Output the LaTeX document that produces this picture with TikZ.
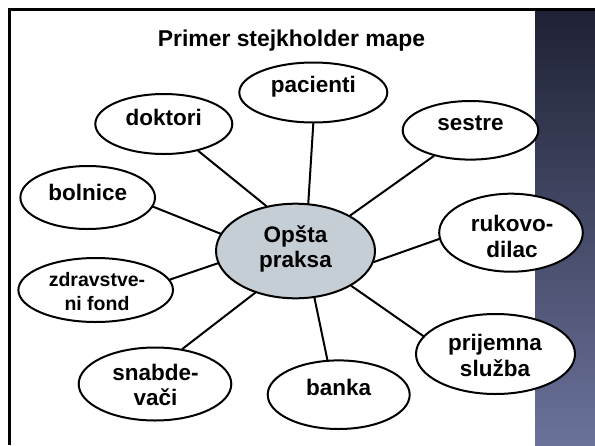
\documentclass[tikz,border=0pt]{standalone}
\usepackage{fontspec}
\setmainfont{Liberation Sans}
\usetikzlibrary{shapes.geometric}
\definecolor{hubfill}{RGB}{197,206,213}
\definecolor{stripTop}{RGB}{31,34,53}
\definecolor{stripBot}{RGB}{107,114,154}
% two stacked lines whose baseline is the first line's baseline
\newcommand{\twolines}[2]{\begin{tabular}[t]{@{}c@{}}#1\\#2\end{tabular}}
\begin{document}
\begin{tikzpicture}[x=1pt,y=-1pt,
  bub/.style={ellipse, draw=black, line width=2pt, fill=white, inner sep=0pt},
  hub/.style={bub, fill=hubfill},
  lbl/.style={font=\bfseries\fontsize{22.5}{25.5}\selectfont, inner sep=0pt, anchor=base},
  small/.style={lbl, font=\bfseries\fontsize{19.5}{24}\selectfont},
  link/.style={line width=2pt, line cap=round}]
\useasboundingbox (0,0) rectangle (595,445);
\fill[white] (0,0) rectangle (595,445);

% side strip and frame
\shade[top color=stripTop, bottom color=stripBot] (535,11) rectangle (595,445);
\fill[black] (8,8) rectangle (595,11);
\fill[black] (8,8) rectangle (11,445);

% title
\node[lbl, font=\bfseries\fontsize{22.9}{26}\selectfont] (title) at (291.5,46) {Primer stejkholder mape};

% bubbles
\node[hub, minimum width=159pt, minimum height=94.6pt] (op) at (295.5,251) {};
\node[bub, minimum width=148pt, minimum height=60pt] (pac) at (313.3,92.5) {};
\node[bub, minimum width=137pt, minimum height=60pt] (dok) at (163.8,124) {};
\node[bub, minimum width=135.6pt, minimum height=58.6pt] (ses) at (470.5,130.3) {};
\node[bub, minimum width=134.6pt, minimum height=63pt] (bol) at (87.7,197.5) {};
\node[bub, minimum width=143.6pt, minimum height=78pt] (ruk) at (511,232.7) {};
\node[bub, minimum width=154.6pt, minimum height=64pt] (zdr) at (95.7,290) {};
\node[bub, minimum width=152.6pt, minimum height=73pt] (sna) at (155,384) {};
\node[bub, minimum width=142pt, minimum height=68.6pt] (ban) at (338.7,394.7) {};
\node[bub, minimum width=159pt, minimum height=80pt] (pri) at (495.5,354) {};

% labels
\node[lbl] (op-t) at (295.5,242) {\twolines{Opšta}{praksa}};
\node[lbl] (pac-t) at (313.3,92.5) {pacienti};
\node[lbl] (dok-t) at (163.8,125) {doktori};
\node[lbl] (ses-t) at (470.5,130) {sestre};
\node[lbl] (bol-t) at (87.7,200) {bolnice};
\node[lbl] (ruk-t) at (512,231.7) {\twolines{rukovo-}{dilac}};
\node[small] (zdr-t) at (97,286.7) {\twolines{zdravstve-}{ni fond}};
\node[lbl] (sna-t) at (155.5,380) {\twolines{snabde-}{vači}};
\node[lbl] (ban-t) at (338.7,395) {banka};
\node[lbl] (pri-t) at (495,350.7) {\twolines{prijemna}{služba}};

% spokes
\draw[link] (dok.-38.8) -- (op.123.5);
\draw[link] (pac.-90) -- (op.75.2);
\draw[link] (ses.215.4) -- (op.33.4);
\draw[link] (bol.-8.1) -- (op.167.1);
\draw[link] (zdr.8.5) -- (op.189);
\draw[link] (sna.52.3) -- (op.226.5);
\draw[link] (ban.108.7) -- (op.-68);
\draw[link] (pri.166.8) -- (op.-32.4);
\draw[link] (ruk.185.7) -- (op.-8.6);
\end{tikzpicture}
\end{document}
